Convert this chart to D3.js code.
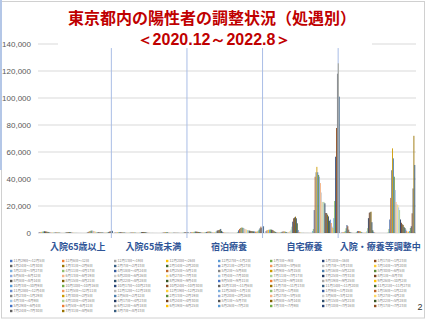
<!DOCTYPE html>
<html>
<head>
<meta charset="utf-8">
<script src="https://cdn.jsdelivr.net/npm/d3@7"></script>
<style>
  body { margin: 0; background: #fff; }
  svg { display: block; font-family: "Liberation Sans", "Noto Sans CJK JP", sans-serif; }
</style>
</head>
<body>
<svg width="427" height="320"></svg>
<script>
const categories = ['入院65歳以上', '入院65歳未満', '宿泊療養', '自宅療養', '入院・療養等調整中'];

const weeks = [
  '11月29日～12月5日', '12月6日～12日', '12月13日～19日', '12月20日～26日', '12月27日～1月2日', '1月3日～9日', '1月10日～16日', '1月17日～1月23日',
  '1月24日～1月30日', '1月31日～2月6日', '2月7日～2月13日', '2月14日～2月20日', '2月21日～2月27日', '2月28日～3月6日', '3月7日～3月13日', '3月14日～3月20日',
  '3月21日～3月27日', '4月11日～4月17日', '4月18日～4月24日', '4月25日～5月1日', '5月2日～5月8日', '5月9日～5月15日', '5月16日～5月22日', '5月30日～6月5日',
  '6月6日～6月12日', '6月13日～6月19日', '6月20日～6月26日', '6月27日～7月3日', '7月4日～7月10日', '7月11日～7月17日', '7月25日～7月31日', '8月1日～8月7日',
  '8月8日～8月14日', '8月15日～8月21日', '8月22日～8月28日', '8月29日～9月4日', '9月5日～9月11日', '9月12日～9月18日', '9月19日～9月25日', '9月26日～10月2日',
  '10月3日～10月9日', '10月10日～10月16日', '10月17日～10月23日', '10月24日～10月30日', '10月31日～11月6日', '11月7日～11月13日', '11月14日～11月20日', '11月21日～11月27日',
  '11月28日～12月4日', '12月5日～12月11日', '12月12日～12月18日', '12月19日～12月25日', '12月26日～1月1日', '1月2日～1月8日', '1月9日～1月15日', '1月16日～1月22日',
  '1月23日～1月29日', '1月30日～2月5日', '2月6日～2月12日', '2月13日～2月19日', '2月20日～2月26日', '2月27日～3月5日', '3月6日～3月12日', '3月27日～4月2日',
  '4月3日～4月9日', '4月10日～4月16日', '4月17日～4月23日', '4月24日～4月30日', '5月1日～5月7日', '5月8日～5月14日', '5月15日～5月21日', '5月22日～5月28日',
  '5月29日～6月4日', '6月5日～6月11日', '6月12日～6月18日', '6月19日～6月25日', '6月26日～7月2日', '7月3日～7月9日', '7月10日～7月16日', '7月17日～7月23日',
  '7月24日～7月30日', '7月31日～8月6日', '8月7日～8月13日'
];

// one value per week, in the same order as weeks
const hosp65over = [
  600, 700, 800, 900, 1000, 1200, 1300, 1200,
  1100, 900, 800, 600, 500, 400, 350, 300,
  300, 350, 400, 450, 450, 400, 350, 250,
  200, 150, 150, 150, 200, 250, 350, 450,
  550, 600, 600, 500, 400, 300, 200, 150,
  100, 80, 60, 50, 40, 30, 30, 30,
  30, 30, 40, 40, 60, 150, 400, 800,
  1200, 1500, 1700, 1800, 1700, 1500, 1300, 1000,
  800, 700, 600, 500, 450, 400, 350, 300,
  250, 200, 200, 250, 300, 500, 800, 1100,
  1300, 1500, 1600
];

const hosp65under = [
  300, 350, 400, 450, 500, 600, 650, 600,
  500, 400, 350, 300, 250, 200, 200, 200,
  200, 250, 300, 350, 400, 350, 300, 250,
  200, 200, 250, 300, 400, 500, 600, 700,
  750, 700, 600, 450, 300, 200, 150, 100,
  60, 50, 40, 30, 30, 20, 20, 20,
  20, 20, 30, 30, 50, 100, 250, 400,
  550, 600, 600, 550, 500, 400, 350, 300,
  250, 200, 200, 180, 160, 150, 140, 130,
  120, 110, 110, 120, 150, 250, 400, 500,
  600, 650, 700
];

const hotel = [
  500, 600, 700, 800, 800, 1000, 1100, 1000,
  900, 800, 700, 600, 500, 450, 400, 400,
  450, 600, 800, 1000, 1100, 1200, 1100, 900,
  700, 600, 600, 700, 900, 1200, 1800, 2000,
  2200, 2500, 3000, 1500, 900, 500, 300, 200,
  150, 100, 80, 60, 50, 50, 50, 50,
  60, 70, 80, 100, 200, 800, 2000, 3000,
  3700, 4000, 4000, 3800, 3500, 3000, 2800, 2500,
  2200, 2000, 1800, 1600, 1500, 1400, 1300, 1200,
  1100, 1000, 1000, 1200, 1800, 2500, 3500, 4700,
  3800, 4500, 5000
];

const home = [
  1500, 2000, 2200, 2400, 2500, 2600, 2500, 2300,
  2000, 1500, 1000, 700, 500, 400, 400, 400,
  500, 700, 900, 1100, 1200, 1100, 900, 600,
  500, 600, 900, 1500, 2500, 4700, 8400, 10900,
  11500, 12100, 10900, 7200, 2200, 800, 400, 250,
  150, 100, 80, 60, 50, 50, 50, 50,
  60, 70, 90, 150, 1500, 3000, 17000, 41700,
  45000, 49000, 45000, 43000, 41700, 37000, 30000, 23000,
  23000, 23000, 22000, 14800, 14800, 13600, 12300, 9000,
  9900, 7400, 4700, 3700, 11000, 23700, 56500, 77800,
  118000, 125700, 101000
];

const pending = [
  300, 400, 600, 800, 1500, 3500, 5900, 5000,
  2500, 800, 400, 200, 150, 100, 100, 100,
  300, 900, 1500, 1500, 1400, 1200, 800, 300,
  200, 200, 300, 500, 1200, 3600, 11000, 15000,
  15500, 15800, 8000, 2000, 800, 300, 100, 50,
  30, 20, 20, 20, 20, 20, 20, 20,
  20, 30, 40, 80, 500, 3000, 10000, 26000,
  46500, 62700, 55300, 41700, 31800, 23000, 21500, 20700,
  19000, 17000, 10000, 7600, 6500, 6000, 4500, 3700,
  2500, 1500, 300, 1000, 1500, 3700, 5000, 14600,
  33000, 72000, 50400
];

const yTicks = [0, 20000, 40000, 60000, 80000, 100000, 120000, 140000];

const seriesByCategory = [hosp65over, hosp65under, hotel, home, pending];

// office style series colours: six accents, then darker / lighter variants
const accents = ['#4472C4', '#ED7D31', '#A5A5A5', '#FFC000', '#5B9BD5', '#70AD47'];
const variants = [
  c => c,
  c => c * 0.6,
  c => c + (255 - c) * 0.2,
  c => c * 0.8,
  c => c + (255 - c) * 0.4,
  c => c * 0.5
];
function seriesColor(i) {
  const base = d3.rgb(accents[i % 6]);
  const f = variants[Math.floor(i / 6) % 6];
  return d3.rgb(f(base.r), f(base.g), f(base.b)).formatHex();
}

const svg = d3.select('svg');
const margin = {top: 44, right: 11, bottom: 87, left: 38};
const width = +svg.attr('width') - margin.left - margin.right;
const height = +svg.attr('height') - margin.top - margin.bottom;

const x0 = d3.scaleBand()
  .domain(categories)
  .range([margin.left, margin.left + width])
  .paddingInner(0.02)
  .paddingOuter(0.01);

const x1 = d3.scaleBand()
  .domain(d3.range(weeks.length))
  .range([0, x0.bandwidth()]);

const y = d3.scaleLinear()
  .domain([0, 140000])
  .range([margin.top + height, margin.top]);

// frame
svg.append('rect')
  .attr('x', 1.5).attr('y', 1.5)
  .attr('width', 423).attr('height', 316.5)
  .attr('fill', 'none')
  .attr('stroke', '#d0d0d0');

svg.append('line')
  .attr('x1', 1).attr('x2', 1)
  .attr('y1', 0).attr('y2', 170)
  .attr('stroke', '#b4c7e7')
  .attr('stroke-width', 2);

// gridlines
svg.append('g')
  .selectAll('line')
  .data(yTicks)
  .enter().append('line')
    .attr('x1', margin.left)
    .attr('x2', margin.left + width)
    .attr('y1', d => y(d))
    .attr('y2', d => y(d))
    .attr('stroke', '#d9d9d9')
    .attr('stroke-width', 1);

// title box hides part of the top gridline
svg.append('rect')
  .attr('x', 58).attr('y', 3)
  .attr('width', 314).attr('height', 44)
  .attr('fill', '#fff');

// bars
const groups = svg.append('g')
  .selectAll('g')
  .data(categories)
  .enter().append('g')
    .attr('transform', d => `translate(${x0(d)},0)`);

groups.selectAll('rect')
  .data((d, gi) => seriesByCategory[gi].map((v, i) => ({i, v})))
  .enter().append('rect')
    .attr('x', d => x1(d.i))
    .attr('width', x1.bandwidth())
    .attr('y', d => y(d.v))
    .attr('height', d => y(0) - y(d.v))
    .attr('fill', d => seriesColor(d.i));

// category separators
svg.append('g')
  .selectAll('line')
  .data(categories.slice(1))
  .enter().append('line')
    .attr('x1', d => x0(d) - 3)
    .attr('x2', d => x0(d) - 3)
    .attr('y1', y(137000))
    .attr('y2', y(0) + 5)
    .attr('stroke', '#a9bde6')
    .attr('stroke-width', 1);

// y tick labels
svg.append('g')
  .attr('transform', `translate(${margin.left},0)`)
  .call(d3.axisLeft(y).tickValues(yTicks).tickSize(0).tickPadding(7).tickFormat(d3.format(',')))
  .call(g => g.select('.domain').remove())
  .selectAll('text')
    .attr('font-family', '"Liberation Sans", sans-serif')
    .attr('font-size', 8)
    .attr('fill', '#595959');

// category labels
svg.append('g')
  .selectAll('text')
  .data(categories)
  .enter().append('text')
    .attr('x', d => x0(d) + x0.bandwidth() / 2 + 2)
    .attr('y', y(0) + 17)
    .attr('text-anchor', 'middle')
    .attr('font-family', '"Noto Sans CJK JP", sans-serif')
    .attr('font-weight', 'bold')
    .attr('font-size', 9)
    .attr('fill', '#2f5597')
    .text(d => d);

// titles
svg.append('text')
  .attr('x', 212).attr('y', 24)
  .attr('text-anchor', 'middle')
  .attr('font-family', '"Noto Sans CJK JP", sans-serif')
  .attr('font-weight', 'bold')
  .attr('font-size', 16)
  .attr('fill', '#c00000')
  .text('東京都内の陽性者の調整状況（処遇別）');

svg.append('text')
  .attr('x', 214).attr('y', 45)
  .attr('text-anchor', 'middle')
  .attr('font-family', '"Liberation Sans", sans-serif')
  .attr('font-weight', 'bold')
  .attr('font-size', 16)
  .attr('fill', '#c00000')
  .text('＜2020.12～2022.8＞');

// legend, 8 columns, row by row
const legendCols = 8;
const legend = svg.append('g')
  .selectAll('g')
  .data(weeks)
  .enter().append('g')
    .attr('transform', (d, i) => `translate(${10 + (i % legendCols) * 52},${261 + Math.floor(i / legendCols) * 5})`);

legend.append('rect')
  .attr('x', 0).attr('y', -1.2)
  .attr('width', 2.4).attr('height', 2.4)
  .attr('fill', (d, i) => seriesColor(i));

legend.append('text')
  .attr('x', 3.6)
  .attr('dy', '0.35em')
  .attr('font-family', '"Noto Sans CJK JP", sans-serif')
  .attr('font-size', 3.5)
  .attr('fill', '#808080')
  .text(d => d);

svg.append('text')
  .attr('x', 420).attr('y', 310)
  .attr('text-anchor', 'middle')
  .attr('font-size', 9)
  .attr('fill', '#333')
  .text('2');
</script>
</body>
</html>
